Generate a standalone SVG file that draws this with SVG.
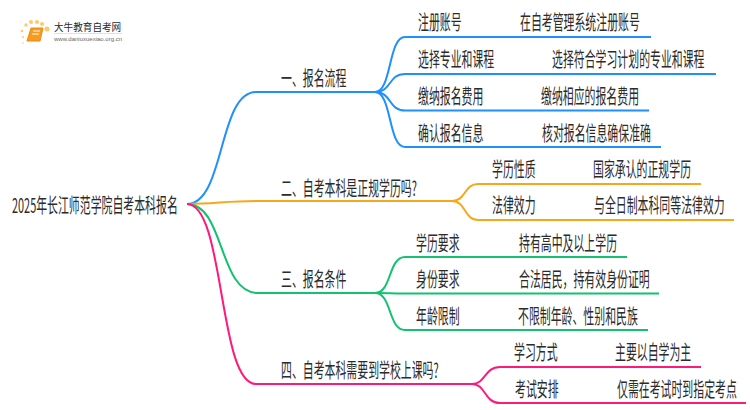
<svg xmlns="http://www.w3.org/2000/svg" width="750" height="410" viewBox="0 0 750 410">
<style>
text{font-family:"Noto Sans CJK SC","Liberation Sans",sans-serif;fill:#2b2b2b}
.t{font-size:20px}
.c{fill:none;stroke-width:2}
.b{stroke:#1e90ff}.o{stroke:#f5a81c}.g{stroke:#12c270}.p{stroke:#ff1a7a}
.d{fill:#fdc96a}
</style>
<rect width="750" height="410" fill="#fff"/>
<g id="logo">
<circle class="d" cx="47" cy="29" r="2.500"/><circle class="d" cx="42" cy="24" r="2"/><circle class="d" cx="37" cy="22" r="2"/><circle class="d" cx="31" cy="22" r="2"/><circle class="d" cx="26" cy="25" r="1.700"/><circle class="d" cx="22" cy="31" r="1.300"/><circle class="d" cx="23" cy="37" r="1"/><circle class="d" cx="23" cy="43" r="0.800"/>
<path d="M31 28H43L40 41H27Z" fill="#f79a1e" stroke="#ef8a12"/><path d="M33 31H40M32 34H39" stroke="#fff" stroke-width="1"/>
<text transform="matrix(.96 0 0 1 54 31)" font-size="10">大牛教育自考网</text>
<path d="M54 33.500H122" stroke="#ccc" stroke-width="0.600"/>
<text transform="matrix(1 0 0 1 54 41)" font-size="6" style="font-family:'Liberation Sans',sans-serif;fill:#666">www.daniuxuexiao.org.cn</text>
</g>
<g id="connectors">
<path class="c b" d="M187 204C225 204 218 92 256 92H375"/>
<path class="c b" d="M375 92C392 92 388 37 405 37H651"/>
<path class="c b" d="M375 92C392 92 388 74 405 74H716"/>
<path class="c b" d="M375 92C392 92 388 110.500 405 110.500H649"/>
<path class="c b" d="M375 92C392 92 388 147 405 147H661"/>
<path class="c o" d="M187 204C215 204 225 201 256 201H452"/>
<path class="c o" d="M452 201C466 201 464 184 478 184H701"/>
<path class="c o" d="M452 201C466 201 464 220 478 220H734"/>
<path class="c g" d="M187 204C225 204 218 293 258 293H375"/>
<path class="c g" d="M375 293C392 293 388 257 405 257H627"/>
<path class="c g" d="M375 293C392 293 388 293.500 405 293.500H659"/>
<path class="c g" d="M375 293C392 293 388 330 405 330H648"/>
<path class="c p" d="M187 204C225 204 218 384 256 384H472"/>
<path class="c p" d="M472 384C486 384 484 367 500 367H701"/>
<path class="c p" d="M472 384C486 384 484 403 500 403H746"/>
</g>
<g id="root"><text class="t" transform="matrix(.545 0 0 1 12 213)">2025年长江师范学院自考本科报名</text></g>
<g id="n1"><text class="t" transform="matrix(.545 0 0 1 281 86)">一、报名流程</text></g>
<g id="n1-1"><text class="t" transform="matrix(.545 0 0 1 418 30)">注册账号</text><text class="t" transform="matrix(.545 0 0 1 520 30)">在自考管理系统注册账号</text></g>
<g id="n1-2"><text class="t" transform="matrix(.545 0 0 1 418 67)">选择专业和课程</text><text class="t" transform="matrix(.545 0 0 1 552 67)">选择符合学习计划的专业和课程</text></g>
<g id="n1-3"><text class="t" transform="matrix(.545 0 0 1 418 104)">缴纳报名费用</text><text class="t" transform="matrix(.545 0 0 1 541 104)">缴纳相应的报名费用</text></g>
<g id="n1-4"><text class="t" transform="matrix(.545 0 0 1 418 141)">确认报名信息</text><text class="t" transform="matrix(.545 0 0 1 542 141)">核对报名信息确保准确</text></g>
<g id="n2"><text class="t" transform="matrix(.545 0 0 1 281 196)">二、自考本科是正规学历吗?</text></g>
<g id="n2-1"><text class="t" transform="matrix(.545 0 0 1 492 177)">学历性质</text><text class="t" transform="matrix(.545 0 0 1 593 177)">国家承认的正规学历</text></g>
<g id="n2-2"><text class="t" transform="matrix(.545 0 0 1 492 213)">法律效力</text><text class="t" transform="matrix(.545 0 0 1 594 213)">与全日制本科同等法律效力</text></g>
<g id="n3"><text class="t" transform="matrix(.545 0 0 1 281 287)">三、报名条件</text></g>
<g id="n3-1"><text class="t" transform="matrix(.545 0 0 1 416 251)">学历要求</text><text class="t" transform="matrix(.545 0 0 1 519 251)">持有高中及以上学历</text></g>
<g id="n3-2"><text class="t" transform="matrix(.545 0 0 1 416 287)">身份要求</text><text class="t" transform="matrix(.545 0 0 1 519 287)">合法居民，持有效身份证明</text></g>
<g id="n3-3"><text class="t" transform="matrix(.545 0 0 1 416 324)">年龄限制</text><text class="t" transform="matrix(.545 0 0 1 518 324)">不限制年龄、性别和民族</text></g>
<g id="n4"><text class="t" transform="matrix(.545 0 0 1 281 378)">四、自考本科需要到学校上课吗?</text></g>
<g id="n4-1"><text class="t" transform="matrix(.545 0 0 1 514 360)">学习方式</text><text class="t" transform="matrix(.545 0 0 1 615 360)">主要以自学为主</text></g>
<g id="n4-2"><text class="t" transform="matrix(.545 0 0 1 515 397)">考试安排</text><text class="t" transform="matrix(.545 0 0 1 617 397)">仅需在考试时到指定考点</text></g>
</svg>
